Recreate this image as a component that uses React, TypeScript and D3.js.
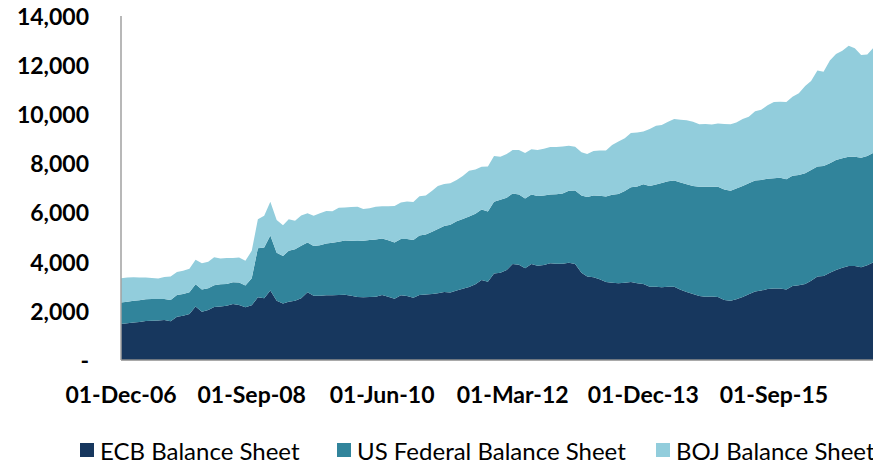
import React from 'react';
import * as d3 from 'd3';

// monthly observations, Dec-06 .. Jan-17 (USD bn)
const months = d3.timeMonth.range(new Date(2006, 11, 1), new Date(2017, 1, 1));

const ecb = [
  1460, 1490, 1520, 1540, 1590, 1600, 1610, 1630, 1570, 1760,
  1800, 1870, 2170, 1960, 2030, 2150, 2170, 2200, 2280, 2240,
  2140, 2220, 2550, 2510, 2820, 2410, 2300, 2370, 2410, 2510,
  2750, 2610, 2610, 2630, 2630, 2640, 2650, 2610, 2560, 2550,
  2560, 2570, 2640, 2570, 2490, 2630, 2600, 2530, 2640, 2660,
  2680, 2710, 2760, 2740, 2820, 2900, 2970, 3080, 3250, 3180,
  3520, 3550, 3660, 3900, 3870, 3730, 3900, 3830, 3860, 3930,
  3910, 3910, 3950, 3900, 3550, 3390, 3360, 3280, 3170, 3140,
  3120, 3140, 3170, 3120, 3090, 2980, 2980, 2960, 2980, 2980,
  2850, 2760, 2680, 2600, 2570, 2580, 2560, 2440, 2410, 2470,
  2560, 2670, 2780, 2820, 2890, 2910, 2910, 2870, 3010, 3040,
  3090, 3220, 3390, 3410, 3550, 3660, 3750, 3820, 3820, 3770,
  3850, 3970,
];

const fed = [
  880, 880, 890, 890, 880, 880, 870, 850, 870, 880,
  880, 880, 910, 910, 890, 890, 910, 890, 880, 910,
  890, 1100, 1990, 2060, 2240, 1950, 1930, 2070, 2090, 2130,
  2030, 2020, 2050, 2100, 2130, 2170, 2210, 2240, 2280, 2300,
  2320, 2330, 2300, 2300, 2290, 2290, 2320, 2350, 2420, 2440,
  2530, 2610, 2690, 2760, 2820, 2830, 2860, 2860, 2870, 2850,
  2910, 2960, 2930, 2870, 2860, 2830, 2830, 2830, 2820, 2800,
  2830, 2860, 2930, 2990, 3130, 3230, 3330, 3390, 3470, 3580,
  3630, 3730, 3850, 3930, 4050, 4090, 4150, 4230, 4280, 4310,
  4360, 4380, 4390, 4440, 4470, 4460, 4480, 4490, 4470, 4500,
  4510, 4510, 4510, 4500, 4480, 4480, 4500, 4480, 4480, 4480,
  4500, 4500, 4470, 4470, 4450, 4470, 4450, 4440, 4440, 4450,
  4440, 4450,
];

const boj = [
  980, 980, 950, 920, 880, 850, 830, 890, 950, 940,
  950, 960, 990, 1060, 1070, 1140, 1040, 1060, 990, 1020,
  1000, 1120, 1180, 1290, 1370, 1330, 1250, 1280, 1160, 1230,
  1180, 1230, 1300, 1330, 1290, 1380, 1340, 1370, 1390, 1290,
  1290, 1330, 1310, 1380, 1480, 1480, 1520, 1540, 1590, 1580,
  1670, 1750, 1700, 1680, 1680, 1750, 1860, 1800, 1730, 1830,
  1860, 1750, 1780, 1760, 1800, 1850, 1830, 1870, 1910, 1930,
  1920, 1910, 1830, 1780, 1760, 1750, 1800, 1840, 1870, 2020,
  2130, 2140, 2200, 2200, 2150, 2320, 2390, 2360, 2420, 2500,
  2550, 2600, 2610, 2540, 2550, 2530, 2570, 2660, 2700, 2680,
  2720, 2710, 2820, 2850, 2980, 3090, 3090, 3130, 3210, 3320,
  3550, 3620, 3900, 3830, 4170, 4310, 4370, 4510, 4410, 4170,
  4130, 4280,
];

const seriesNames = ['ECB Balance Sheet', 'US Federal Balance Sheet', 'BOJ Balance Sheet'];
const seriesKeys = ['ecb', 'fed', 'boj'];
const colors = ['#17375E', '#31849B', '#92CDDC'];
const yTicks = [0, 2000, 4000, 6000, 8000, 10000, 12000, 14000];
const xTickEvery = 21; // label every 21 months

const W = 873;
const H = 464;
const left = 121;
const baseY = 360;
const FONT = 'Lato, "Open Sans", sans-serif';

export default function App() {
  const rows = months.map((d, i) => ({ date: d, ecb: ecb[i], fed: fed[i], boj: boj[i] }));

  const x = d3.scaleTime()
    .domain([months[0], months[months.length - 1]])
    .range([left, 873.6]);
  const y = d3.scaleLinear().domain([0, 14000]).range([baseY, 15.5]);

  const stacked = d3.stack().keys(seriesKeys)(rows as any);
  const area = d3.area<any>()
    .x(d => x(d.data.date))
    .y0(d => y(d[0]))
    .y1(d => y(d[1]));

  const fmtY = (v: number) => (v === 0 ? '-' : d3.format(',')(v));
  const fmtX = d3.timeFormat('%d-%b-%y');
  const xTicks = months.filter((_, i) => i % xTickEvery === 0 && i < 110);

  const legendX = [80, 337, 656];

  return (
    <svg width={W} height={H} style={{ position: 'absolute', left: 0, top: 0, display: 'block' }}
      fontFamily={FONT}>
      <rect width={W} height={H} fill="#fff" />
      {stacked.map((s, i) => (
        <path key={seriesKeys[i]} d={area(s as any) || ''} fill={colors[i]} />
      ))}
      <line x1={left} x2={W} y1={baseY} y2={baseY} stroke="#8c8c8c" strokeWidth={1.5} />
      <line x1={left} x2={left} y1={16} y2={baseY} stroke="#a0a0a0" strokeWidth={1.5} />
      {yTicks.map(t => (
        <text key={t} x={89} y={y(t)} textAnchor="end" dominantBaseline="central"
          fontSize={23} fontWeight="bold" fill="#000">{fmtY(t)}</text>
      ))}
      {xTicks.map(t => (
        <text key={+t} x={x(t)} y={394} textAnchor="middle" dominantBaseline="central"
          fontSize={23} fontWeight="bold" fill="#000">{fmtX(t)}</text>
      ))}
      {seriesNames.map((n, i) => (
        <g key={n} transform={`translate(${legendX[i]},450)`}>
          <rect x={0} y={-7} width={14} height={14} fill={colors[i]} />
          <text x={20} y={0} dominantBaseline="central" fontSize={24} fill="#000">{n}</text>
        </g>
      ))}
    </svg>
  );
}
